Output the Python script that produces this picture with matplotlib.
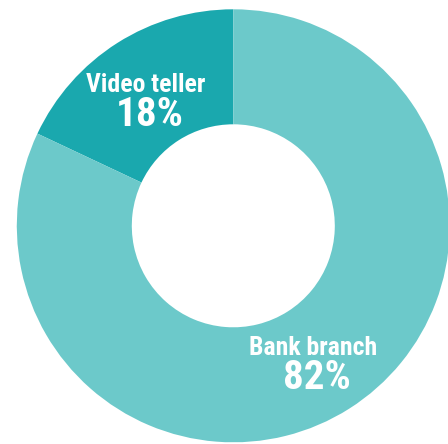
import numpy as np
import matplotlib
matplotlib.use("Agg")
import matplotlib.pyplot as plt

# Datos del grafico
categorias = ["Video teller", "Bank branch"]
valores = [18, 82]
colores = ["#1aa8ae", "#6cc9ca"]

W, H = 448, 444
fig = plt.figure(figsize=(W / 100, H / 100), dpi=100)
ax = fig.add_axes([0, 0, 1, 1])
ax.axis("off")

centro = (233.3, H - 225.8)
radio = 216.5
wedges, _ = ax.pie(valores, colors=colores, startangle=90, counterclock=True,
                   center=centro, radius=radio,
                   wedgeprops=dict(width=radio - 101.5, linewidth=0))
ax.set_xlim(0, W)
ax.set_ylim(0, H)
ax.set_aspect("equal")

# Etiquetas en el angulo medio de cada porcion
fuente = ["Roboto Condensed", "DejaVu Sans"]
for w, nombre, v in zip(wedges, categorias, valores):
    ang = np.deg2rad((w.theta1 + w.theta2) / 2)
    x = centro[0] + 0.72 * radio * np.cos(ang)
    y = centro[1] + 0.72 * radio * np.sin(ang)
    ax.text(x - 4, y + 2, nombre, ha="center", va="baseline", color="white",
            fontsize=18.5, fontweight="bold", family=fuente)
    ax.text(x, y - 31.5, f"{v}%", ha="center", va="baseline", color="white",
            fontsize=29.5, fontweight="bold", family=fuente)

fig.savefig("out.png", dpi=100)
